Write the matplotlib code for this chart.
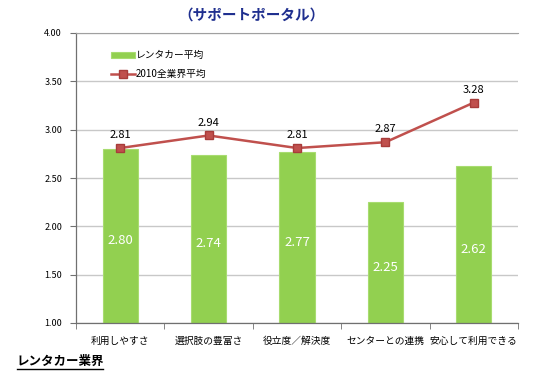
import matplotlib
matplotlib.use("Agg")
import matplotlib.pyplot as plt
import numpy as np

plt.rcParams['font.family'] = ['Noto Sans CJK JP', 'DejaVu Sans']

categories = ["利用しやすさ", "選択肢の豊富さ", "役立度／解決度", "センターとの連携", "安心して利用できる"]
rental_avg = [2.80, 2.74, 2.77, 2.25, 2.62]
industry_avg = [2.81, 2.94, 2.81, 2.87, 3.28]

fig = plt.figure(figsize=(5.55, 3.75), dpi=100)
ax = fig.add_axes([76 / 555, 1 - 323 / 375, (518 - 76) / 555, (323 - 33) / 375])

x = np.arange(len(categories))
bars = ax.bar(x, rental_avg, width=0.4, color="#92D050", edgecolor="#A8DC70",
              lw=0.8, label="レンタカー平均", zorder=2)
line, = ax.plot(x, industry_avg, "s-", color="#C0504D", lw=1.8, ms=5.5,
                markeredgecolor="#A83C3A", label="2010全業界平均", zorder=3)

for xi, v in zip(x, rental_avg):
    ax.text(xi, (1 + v) / 2 - 0.05, f"{v:.2f}", ha="center", va="center",
            color="white", fontsize=9.5)
for xi, v in zip(x, industry_avg):
    ax.text(xi, v + 0.08, f"{v:.2f}", ha="center", va="bottom",
            color="black", fontsize=8)

ax.set_ylim(1.0, 4.0)
ax.set_xlim(-0.5, len(categories) - 0.5)
yt = np.arange(1.0, 4.01, 0.5)
ax.set_yticks(yt)
ax.set_yticklabels([f"{t:.2f}" for t in yt], fontsize=6.5)
ax.yaxis.grid(True, color="#C8C8C8", lw=1.0, zorder=0)
ax.set_axisbelow(True)

ax.set_xticks(x)
ax.set_xticklabels(categories, fontsize=7)
ax.tick_params(axis="x", length=0, pad=9)
ax.set_xticks(np.arange(-0.5, len(categories)), minor=True)
ax.tick_params(axis="x", which="minor", length=4, color="#707070")
ax.tick_params(axis="y", length=4, color="#707070", pad=6)

ax.spines["right"].set_visible(False)
ax.spines["top"].set_color("#A0A0A0")
for s in ["left", "bottom"]:
    ax.spines[s].set_color("#707070")
    ax.spines[s].set_linewidth(0.9)

ax.legend([bars, line], ["レンタカー平均", "2010全業界平均"],
          loc="upper left", bbox_to_anchor=(0.06, 0.97), frameon=False,
          fontsize=7, handlelength=2.4, handleheight=0.6, handletextpad=0.1,
          labelspacing=0.9)

fig.text(252 / 555, 1 - 15 / 375, "（サポートポータル）", ha="center", va="center",
         color="#1F2F8F", fontsize=10.5, fontweight="bold")
fig.text(17 / 555, 1 - 361 / 375, "レンタカー業界", ha="left", va="center",
         color="black", fontsize=9, fontweight="bold")
fig.add_artist(plt.Line2D([17 / 555, 103 / 555], [1 - 369 / 375, 1 - 369 / 375],
                          color="black", lw=1))

fig.savefig("out.png", dpi=100)
